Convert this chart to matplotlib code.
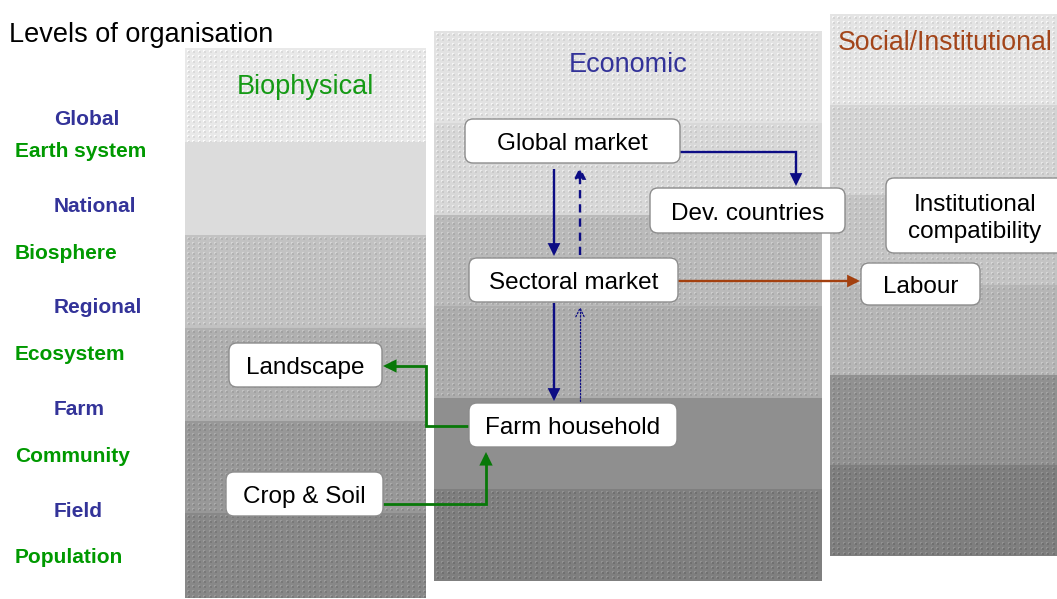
import numpy as np
import matplotlib
matplotlib.use("Agg")
import matplotlib.pyplot as plt
from matplotlib.patches import Rectangle, FancyBboxPatch, FancyArrowPatch
from matplotlib.path import Path
from matplotlib.colors import to_rgb

plt.rcParams['font.family'] = ['Liberation Sans', 'DejaVu Sans']

# ---------------- content ----------------
title = "Levels of organisation"
econ_levels = ["Global", "National", "Regional", "Farm", "Field"]
bio_levels = ["Earth system", "Biosphere", "Ecosystem", "Community", "Population"]
domains = ["Biophysical", "Economic", "Social/Institutional"]

# grey shade of each of the six level bands (top -> bottom) per domain
bio_shades = ["#e9e9e9", "#dcdcdc", "#c2c2c2", "#b0b0b0", "#989898", "#888888"]
econ_shades = ["#e2e2e2", "#d8d8d8", "#bababa", "#adadad", "#8f8f8f", "#7f7f7f"]
soc_shades = ["#e4e4e4", "#d4d4d4", "#c4c4c4", "#b6b6b6", "#919191", "#7f7f7f"]
bio_dotted = [True, False, True, True, True, True]
econ_dotted = [True, True, True, True, False, True]
soc_dotted = [True, True, True, True, True, True]

nodes = ["Global market", "Dev. countries", "Institutional\ncompatibility",
         "Sectoral market", "Labour", "Landscape", "Farm household", "Crop & Soil"]
links = [("Global market", "Dev. countries", "econ", "solid"),
         ("Global market", "Sectoral market", "econ", "solid"),
         ("Sectoral market", "Global market", "econ", "dashed"),
         ("Sectoral market", "Labour", "social", "solid"),
         ("Sectoral market", "Farm household", "econ", "solid"),
         ("Farm household", "Sectoral market", "econ", "dotted"),
         ("Farm household", "Landscape", "bio", "solid"),
         ("Crop & Soil", "Farm household", "bio", "solid")]

# ---------------- layout (pixels) ----------------
W, H = 1057, 599
fig = plt.figure(figsize=(W / 100, H / 100), dpi=100)
ax = fig.add_axes([0, 0, 1, 1])
ax.set_xlim(0, W)
ax.set_ylim(H, 0)
ax.axis("off")

col_x = {"Biophysical": (185, 426), "Economic": (434, 822), "Social/Institutional": (830, 1060)}
col_bounds = {"Biophysical": [48, 142, 235, 328, 421, 513, 598],
              "Economic": [31, 123, 215, 306, 398, 489, 581],
              "Social/Institutional": [14, 105, 195, 285, 375, 465, 556]}
col_shades = {"Biophysical": bio_shades, "Economic": econ_shades, "Social/Institutional": soc_shades}
col_dots = {"Biophysical": bio_dotted, "Economic": econ_dotted, "Social/Institutional": soc_dotted}

for dom in domains:
    x0, x1 = col_x[dom]
    b = col_bounds[dom]
    for i, shade in enumerate(col_shades[dom]):
        ax.add_patch(Rectangle((x0, b[i]), x1 - x0, b[i + 1] - b[i],
                               facecolor=shade, edgecolor="none", zorder=1))
        if col_dots[dom][i]:
            gx = np.arange(x0 + 2.5, x1 - 1, 5.5)
            gy = np.arange(b[i] + 2.5, b[i + 1] - 1, 5.0)
            XX, YY = np.meshgrid(gx, gy)
            c = np.array(to_rgb(shade))
            light = np.clip(c + 0.07, 0, 1)
            dark = np.clip(c - 0.06, 0, 1)
            ax.scatter(XX.ravel(), YY.ravel(), s=1.2, marker="s", color=light,
                       linewidths=0, zorder=2)
            ax.scatter(XX.ravel() + 1.4, YY.ravel() + 1.4, s=0.7, marker="s", color=dark,
                       linewidths=0, zorder=2)

DY = 2.5  # visual centring offset for text

# titles
ax.text(9, 32 + DY, title, fontsize=19.5, color="black", ha="left", va="center", zorder=5)
ax.text(305, 84 + DY, domains[0], fontsize=19.5, color="#159a15", ha="center", va="center", zorder=5)
ax.text(628, 62 + DY, domains[1], fontsize=19.5, color="#333399", ha="center", va="center", zorder=5)
ax.text(838, 41 + DY, domains[2], fontsize=19.2, color="#a3451a", ha="left", va="center", zorder=5)

# level labels
econ_y = [117, 204, 305, 407, 509]
bio_y = [149, 251, 352, 454, 555]
for lab, y in zip(econ_levels, econ_y):
    ax.text(54, y + DY, lab, fontsize=15, fontweight="bold", color="#333399", ha="left", va="center")
for lab, y in zip(bio_levels, bio_y):
    ax.text(15, y + DY, lab, fontsize=15, fontweight="bold", color="#009900", ha="left", va="center")

# boxes
box_geom = {"Global market": (465, 119, 215, 44),
            "Dev. countries": (650, 188, 195, 45),
            "Institutional\ncompatibility": (886, 178, 180, 75),
            "Sectoral market": (469, 258, 209, 44),
            "Labour": (861, 263, 119, 42),
            "Landscape": (229, 343, 153, 44),
            "Farm household": (469, 403, 208, 44),
            "Crop & Soil": (226, 472, 157, 44)}
for name in nodes:
    x, y, w, h = box_geom[name]
    ax.add_patch(FancyBboxPatch((x, y), w, h, boxstyle="round,pad=0,rounding_size=8",
                                facecolor="white", edgecolor="#8c8c8c", linewidth=1.0, zorder=6))
    cx = x + w / 2 if name != "Institutional\ncompatibility" else 975
    ax.text(cx, y + h / 2 + DY + 0.5, name, fontsize=17.5, ha="center", va="center",
            color="black", zorder=7, linespacing=1.25)

# connector routes
routes = {("Global market", "Dev. countries"): [(680, 152), (796, 152), (796, 186)],
          ("Global market", "Sectoral market"): [(554, 169), (554, 256)],
          ("Sectoral market", "Global market"): [(580, 255), (580, 167)],
          ("Sectoral market", "Labour"): [(678, 281), (860, 281)],
          ("Sectoral market", "Farm household"): [(554, 303), (554, 401)],
          ("Farm household", "Sectoral market"): [(580, 401), (580, 307)],
          ("Farm household", "Landscape"): [(469, 426), (426, 426), (426, 366), (383, 366)],
          ("Crop & Soil", "Farm household"): [(383, 504), (486, 504), (486, 452)]}
link_colors = {"econ": "#0c0c84", "social": "#a3400f", "bio": "#087808"}

for src, dst, kind, style in links:
    verts = routes[(src, dst)]
    codes = [Path.MOVETO] + [Path.LINETO] * (len(verts) - 1)
    col = link_colors[kind]
    if style == "dotted":
        arr = FancyArrowPatch(path=Path(verts, codes), arrowstyle="->,head_length=0.6,head_width=0.3",
                              mutation_scale=10, color=col, linewidth=0.9,
                              linestyle=(0, (1.2, 1.5)), zorder=4)
    else:
        ls = "-" if style == "solid" else (0, (3.5, 2.5))
        lw = 2.0 if kind == "bio" else 1.7
        arr = FancyArrowPatch(path=Path(verts, codes), arrowstyle="-|>,head_length=0.65,head_width=0.32",
                              mutation_scale=10, color=col, linewidth=lw,
                              linestyle=ls, joinstyle="miter", capstyle="butt", zorder=4)
    ax.add_patch(arr)

fig.savefig("out.png", dpi=100)
